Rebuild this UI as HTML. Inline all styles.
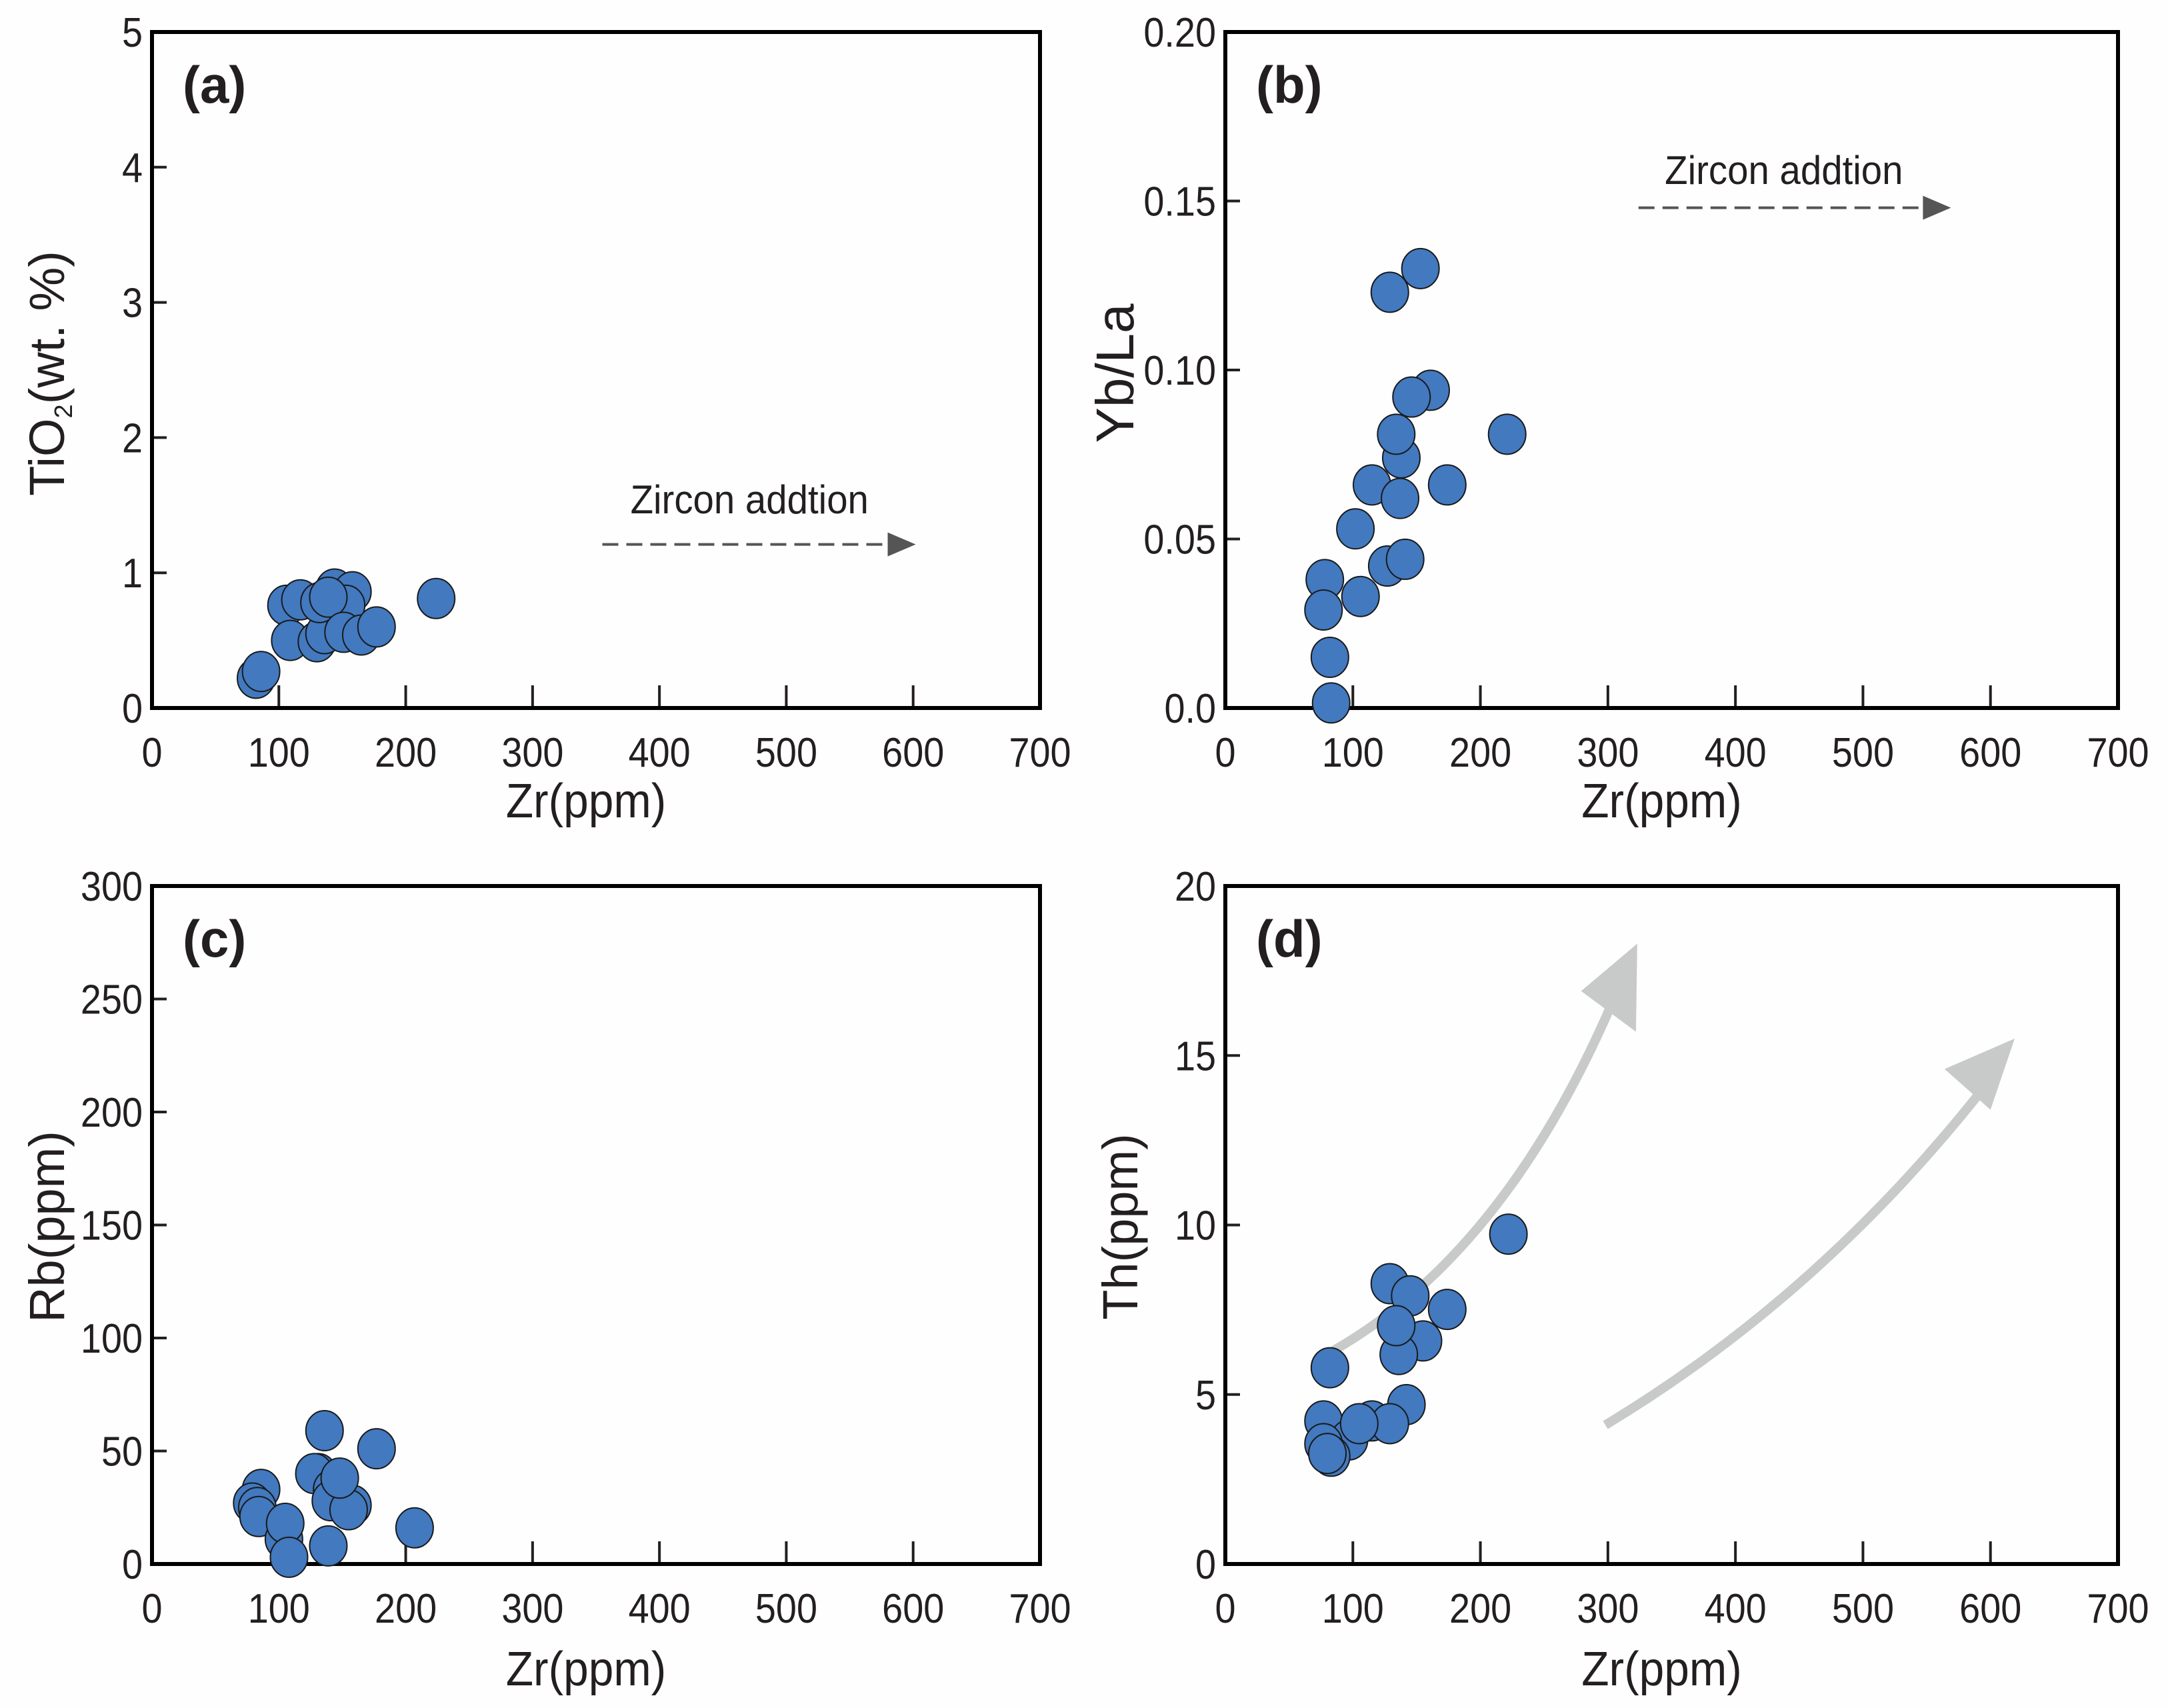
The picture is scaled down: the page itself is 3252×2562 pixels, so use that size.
<!DOCTYPE html>
<html><head><meta charset="utf-8"><style>
html,body{margin:0;padding:0;background:#fff;}
svg{display:block;}
text{font-family:"Liberation Sans",Arial,sans-serif;fill:#231f20;}
</style></head>
<body>
<svg id="fig" width="3252" height="2562" viewBox="0 0 3252 2562" xmlns="http://www.w3.org/2000/svg">
<rect x="0" y="0" width="3252" height="2562" fill="#fefefe"/>
</svg>
<script>
// ---- data ----
const xTicks = [0,100,200,300,400,500,600,700];
const aTicksY = [0,1,2,3,4,5];
const aTickLabelsY = ["0","1","2","3","4","5"];
const aZr = [82,86,106,117,109,130,136,132,144,158,153,139,151,165,177,224];
const aTiO2 = [0.22,0.27,0.76,0.80,0.50,0.49,0.55,0.78,0.88,0.86,0.76,0.82,0.56,0.54,0.60,0.81];
const bTicksY = [0,0.05,0.10,0.15,0.20];
const bTickLabelsY = ["0.0","0.05","0.10","0.15","0.20"];
const bZr = [153,129,161,146,138,134,221,115,174,137,102,127,141,78,106,77,82,83];
const bYbLa = [0.130,0.123,0.094,0.092,0.074,0.081,0.081,0.066,0.066,0.062,0.053,0.042,0.044,0.038,0.033,0.029,0.015,0.0015];
const cTicksY = [0,50,100,150,200,250,300];
const cTickLabelsY = ["0","50","100","150","200","250","300"];
const cZr = [136,177,131,128,142,141,158,155,148,86,79,83,84,104,105,108,139,207];
const cRb = [59,51,40,40,33,28,26,24,38,33,27,25,21,11,18,3,8,16];
const dTicksY = [0,5,10,15,20];
const dTickLabelsY = ["0","5","10","15","20"];
const dZr = [222,129,145,174,155,136,134,82,77,115,142,129,97,105,77,83,80];
const dTh = [9.73,8.27,7.91,7.51,6.58,6.18,7.03,5.79,4.22,4.22,4.70,4.14,3.66,4.14,3.55,3.18,3.26];

const NS = "http://www.w3.org/2000/svg";
const svg = document.getElementById('fig');
function mk(tag, attrs, parent){
  const e = document.createElementNS(NS, tag);
  for (const k in attrs) e.setAttribute(k, attrs[k]);
  (parent||svg).appendChild(e);
  return e;
}
function txt(s, x, y, size, anchor, weight, sx, parent){
  const t = mk('text', {x:0, y:0, 'font-size':size, 'text-anchor':anchor, 'font-weight':weight||'normal',
    transform:`translate(${x},${y}) scale(${sx||1},1)`}, parent);
  t.textContent = s;
  return t;
}

function panel(opt){
  const g = mk('g', {});
  
  
  const X0=opt.x0, X1=opt.x1, Y0=opt.y0, Y1=opt.y1;
  const sx = v => X0 + v/700*(X1-X0);
  const sy = v => Y1 - (v-opt.ymin)/(opt.ymax-opt.ymin)*(Y1-Y0);
  xTicks.forEach((v,i)=>{
    if (i>0 && i<xTicks.length-1){
      const t = mk('line', {x1:sx(v), x2:sx(v), y1:Y1, y2:Y1-34, stroke:'#231f20', 'stroke-width':4}, g);
      
      
    }
    const l = txt(String(v), sx(v), Y1+88, 62, 'middle', 'normal', 0.9, g);
    
    
  });
  opt.ticksY.forEach((v,i)=>{
    if (i>0 && i<opt.ticksY.length-1){
      const t = mk('line', {x1:X0, x2:X0+22, y1:sy(v), y2:sy(v), stroke:'#231f20', 'stroke-width':4}, g);
      
      
    }
    const l = txt(opt.labelsY[i], X0-14, sy(v)+22, 62, 'end', 'normal', 0.9, g);
    
    
  });
  const fr = mk('rect', {x:X0, y:Y0, width:X1-X0, height:Y1-Y0, fill:'none', stroke:'#000', 'stroke-width':6}, g);
  
  
  const xt = txt('Zr(ppm)', (X0+X1)/2 - 15, opt.xtY, 72, 'middle', 'normal', 0.94, g);
  
  
  const yt = mk('text', {x:0, y:0, 'font-size':opt.ytSize||74, 'text-anchor':'middle',
    transform:`translate(${opt.ytX},${opt.ytY}) rotate(-90) scale(1,1)`}, g);
  yt.innerHTML = opt.ytitle;
  
  
  const pl = txt(opt.label, X0+46, Y0+106, 78, 'start', 'bold', 1, g);
  
  
  if (opt.extra) opt.extra(g, sx, sy);
  opt.xs.forEach((xv,i)=>{
    const c = mk('ellipse', {cx:sx(xv), cy:sy(opt.ys[i]), rx:28, ry:30, fill:'#4279bf', stroke:'#1a1a1a', 'stroke-width':2}, g);
    
    
  });
}

function zirconArrow(g, sx, sy, xa, xb, yv, tx, ty){
  const y = sy(yv);
  const ln = mk('line', {x1:sx(xa), x2:sx(xb)-28, y1:y, y2:y, stroke:'#555', 'stroke-width':4, 'stroke-dasharray':'24 12'}, g);
  
  
  const hd = mk('polygon', {points:`${sx(xb)},${y} ${sx(xb)-42},${y-18} ${sx(xb)-42},${y+18}`, fill:'#555'}, g);
  
  
  const t = txt('Zircon addtion', sx(tx), sy(ty), 60, 'middle', 'normal', 0.94, g);
  
  
}

panel({name:'panel-a', x0:228, x1:1560, y0:48, y1:1062, ymin:0, ymax:5,
  ticksY:aTicksY, labelsY:aTickLabelsY, xs:aZr, ys:aTiO2, label:'(a)',
  ytitle:'TiO<tspan font-size="38" dy="12">2</tspan><tspan dy="-12">(wt. %)</tspan>', ytX:96, ytY:560, xtY:1226,
  extra:(g,sx,sy)=>zirconArrow(g,sx,sy,355,602,1.21,471,1.44)});
panel({name:'panel-b', x0:1838, x1:3177, y0:48, y1:1062, ymin:0, ymax:0.2,
  ticksY:bTicksY, labelsY:bTickLabelsY, xs:bZr, ys:bYbLa, label:'(b)',
  ytitle:'Yb/La', ytX:1700, ytY:560, xtY:1226, ytSize:80,
  extra:(g,sx,sy)=>zirconArrow(g,sx,sy,324,569,0.148,438,0.155)});
panel({name:'panel-c', x0:228, x1:1560, y0:1329, y1:2346, ymin:0, ymax:300,
  ticksY:cTicksY, labelsY:cTickLabelsY, xs:cZr, ys:cRb, label:'(c)',
  ytitle:'Rb(ppm)', ytX:96, ytY:1840, xtY:2528});
panel({name:'panel-d', x0:1838, x1:3177, y0:1329, y1:2346, ymin:0, ymax:20,
  ticksY:dTicksY, labelsY:dTickLabelsY, xs:dZr, ys:dTh, label:'(d)',
  ytitle:'Th(ppm)', ytX:1706, ytY:1840, xtY:2528,
  extra:(g,sx,sy)=>{
    const c1 = mk('path', {d:`M${sx(85)},${sy(6.3)} Q${sx(220)},${sy(9.2)} ${sx(305)},${sy(16.7)}`, fill:'none', stroke:'#c8c9c9', 'stroke-width':14}, g);
    
    
    const h1 = mk('polygon', {points:`${sx(323)},${sy(18.3)} ${sx(279)},${sy(16.9)} ${sx(322)},${sy(15.7)}`, fill:'#c8c9c9'}, g);
    
    
    const c2 = mk('path', {d:`M${sx(298)},${sy(4.1)} Q${sx(470)},${sy(8.0)} ${sx(600)},${sy(14.3)}`, fill:'none', stroke:'#c8c9c9', 'stroke-width':14}, g);
    
    
    const h2 = mk('polygon', {points:`${sx(619)},${sy(15.5)} ${sx(564)},${sy(14.6)} ${sx(600)},${sy(13.4)}`, fill:'#c8c9c9'}, g);
    
    
  }});
</script>
</body></html>
